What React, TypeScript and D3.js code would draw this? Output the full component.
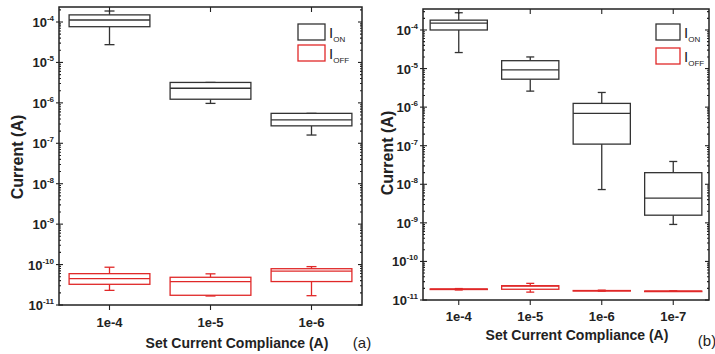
import React from "react";
import * as d3 from "d3";

// box stats: [min, q1, median, q3, max]
const catsA = ["1e-4", "1e-5", "1e-6"];
const onA = [
  [2.75e-5, 7.65e-5, 1.12e-4, 1.5e-4, 1.87e-4],
  [9.7e-7, 1.23e-6, 2.3e-6, 3.2e-6, 3.2e-6],
  [1.6e-7, 2.7e-7, 3.8e-7, 5.5e-7, 5.5e-7],
];
const offA = [
  [2.3e-11, 3.25e-11, 4.47e-11, 5.96e-11, 8.6e-11],
  [1.67e-11, 1.74e-11, 3.8e-11, 4.85e-11, 5.9e-11],
  [1.7e-11, 3.8e-11, 6.9e-11, 7.9e-11, 8.9e-11],
];

const catsB = ["1e-4", "1e-5", "1e-6", "1e-7"];
const onB = [
  [2.6e-5, 1.0e-4, 1.5e-4, 1.8e-4, 2.8e-4],
  [2.6e-6, 5.3e-6, 9.2e-6, 1.6e-5, 2.0e-5],
  [7.3e-9, 1.1e-7, 6.9e-7, 1.25e-6, 2.4e-6],
  [9.1e-10, 1.58e-9, 4.4e-9, 2.0e-8, 3.9e-8],
];
const offB = [
  [1.82e-11, 1.87e-11, 1.9e-11, 1.93e-11, 1.98e-11],
  [1.6e-11, 1.9e-11, 2.3e-11, 2.35e-11, 2.7e-11],
  [1.7e-11, 1.72e-11, 1.74e-11, 1.76e-11, 1.8e-11],
  [1.7e-11, 1.7e-11, 1.7e-11, 1.7e-11, 1.7e-11],
];

const decades = [-11, -10, -9, -8, -7, -6, -5, -4];

const ON_COLOR = "#333";
const OFF_COLOR = "#e02828";
const FONT = "'Liberation Sans', Arial, sans-serif";
const NARROW = "'Liberation Sans Narrow', 'Liberation Sans', Arial, sans-serif";

type PanelProps = {
  cats: string[];
  on: number[][];
  off: number[][];
  left: number;
  right: number;
  top: number;
  bottom: number;
  ymax: number;
  cap: number;
  legX: number;
  legY: number[];
  yTitleX: number;
  yTitleY: number;
  xTitleX: number;
  xTitleY: number;
  tag: string;
  tagX: number;
  tagY: number;
  xLabY: number;
};

function Boxes({ data, x, y, w, cap, color }: any) {
  return (
    <g stroke={color} strokeWidth={1.3} fill="none">
      {data.map((d: number[], i: number) => {
        const cx = x(i);
        const [mn, q1, md, q3, mx] = d.map(y);
        return (
          <g key={i}>
            <line x1={cx} x2={cx} y1={q3} y2={mx} />
            <line x1={cx} x2={cx} y1={q1} y2={mn} />
            <line x1={cx - cap / 2} x2={cx + cap / 2} y1={mx} y2={mx} />
            <line x1={cx - cap / 2} x2={cx + cap / 2} y1={mn} y2={mn} />
            <rect x={cx - w / 2} y={q3} width={w} height={Math.max(q1 - q3, 0.5)} fill="#fff" />
            <line x1={cx - w / 2} x2={cx + w / 2} y1={md} y2={md} />
          </g>
        );
      })}
    </g>
  );
}

function Panel(p: PanelProps) {
  const y = d3.scaleLog().domain([1e-11, p.ymax]).range([p.bottom, p.top]);
  const step = (p.right - p.left) / p.cats.length;
  const xs = d3.scalePoint<number>().domain(p.cats.map((_, i) => i)).range([p.left, p.right]).padding(0.5);
  const x = (i: number) => xs(i) as number;
  const w = step * 0.8;
  const minors: number[] = [];
  decades.forEach((k) => {
    for (let m = 2; m <= 9; m++) {
      const v = m * Math.pow(10, k);
      if (v <= p.ymax) minors.push(v);
    }
  });
  const legW = p.legX > 600 ? 24 : 27;
  return (
    <g>
      <Boxes data={p.on} x={x} y={y} w={w} cap={p.cap} color={ON_COLOR} />
      <Boxes data={p.off} x={x} y={y} w={w} cap={p.cap} color={OFF_COLOR} />
      {/* frame */}
      <rect x={p.left} y={p.top} width={p.right - p.left} height={p.bottom - p.top} fill="none" stroke="#222" strokeWidth={1.5} />
      {/* ticks */}
      <g stroke="#222" strokeWidth={1.1}>
        {decades.map((k) => (
          <g key={k}>
            <line x1={p.left - 3} x2={p.left + 4} y1={y(Math.pow(10, k))} y2={y(Math.pow(10, k))} />
            <line x1={p.right - 4} x2={p.right} y1={y(Math.pow(10, k))} y2={y(Math.pow(10, k))} />
          </g>
        ))}
        {minors.map((v, i) => (
          <g key={i}>
            <line x1={p.left} x2={p.left + 2} y1={y(v)} y2={y(v)} />
            <line x1={p.right - 2} x2={p.right} y1={y(v)} y2={y(v)} />
          </g>
        ))}
        {p.cats.map((_, i) => (
          <g key={i}>
            <line x1={x(i)} x2={x(i)} y1={p.bottom} y2={p.bottom + 5} />
            <line x1={x(i)} x2={x(i)} y1={p.top} y2={p.top + 5} />
          </g>
        ))}
      </g>
      {/* y tick labels */}
      <g fontFamily={NARROW} fontWeight="bold" fill="#222" textAnchor="end">
        {decades.map((k) => (
          <text key={k} x={p.left - 5} y={y(Math.pow(10, k)) + 5} fontSize={13}>
            10<tspan dy={-6} fontSize={8}>{k}</tspan>
          </text>
        ))}
      </g>
      {/* x tick labels */}
      <g fontFamily={NARROW} fontWeight="bold" fill="#222" textAnchor="middle" fontSize={13}>
        {p.cats.map((c, i) => (
          <text key={c} x={x(i)} y={p.xLabY}>{c}</text>
        ))}
      </g>
      {/* legend */}
      <g fill="none" strokeWidth={1.3}>
        <rect x={p.legX} y={p.legY[0]} width={legW} height={16} stroke={ON_COLOR} />
        <rect x={p.legX} y={p.legY[1]} width={legW} height={16} stroke={OFF_COLOR} />
      </g>
      <g fontFamily={NARROW} fill="#222" fontSize={15}>
        <text x={p.legX + legW + 4} y={p.legY[0] + 14}>
          I<tspan dy={4} fontSize={8}>ON</tspan>
        </text>
        <text x={p.legX + legW + 4} y={p.legY[1] + 14}>
          I<tspan dy={4} fontSize={8}>OFF</tspan>
        </text>
      </g>
      {/* titles */}
      <text
        transform={`translate(${p.yTitleX},${p.yTitleY}) rotate(-90)`}
        textAnchor="middle"
        dominantBaseline="central"
        fontFamily={FONT}
        fontWeight="bold"
        fontSize={16}
        fill="#222"
      >
        Current (A)
      </text>
      <text x={p.xTitleX} y={p.xTitleY} textAnchor="middle" dominantBaseline="central" fontFamily={FONT} fontWeight="bold" fontSize={14} fill="#222">
        Set Current Compliance (A)
      </text>
      <text x={p.tagX} y={p.tagY} textAnchor="middle" dominantBaseline="central" fontFamily={FONT} fontSize={15} fill="#222">
        {p.tag}
      </text>
    </g>
  );
}

export default function App() {
  return (
    <svg width={715} height={354} style={{ position: "absolute", left: 0, top: 0, background: "#fff" }}>
      <rect width={715} height={354} fill="#fff" />
      <Panel
        cats={catsA} on={onA} off={offA}
        left={59} right={362} top={7} bottom={305} ymax={2.35e-4} cap={10}
        legX={298} legY={[24, 45]}
        yTitleX={17} yTitleY={157} xTitleX={237} xTitleY={343}
        tag="(a)" tagX={362} tagY={342} xLabY={327}
      />
      <Panel
        cats={catsB} on={onB} off={offB}
        left={423} right={709} top={9} bottom={300} ymax={3.5e-4} cap={8}
        legX={656} legY={[24, 48]}
        yTitleX={387} yTitleY={153} xTitleX={577} xTitleY={335}
        tag="(b)" tagX={707} tagY={340} xLabY={321}
      />
    </svg>
  );
}
